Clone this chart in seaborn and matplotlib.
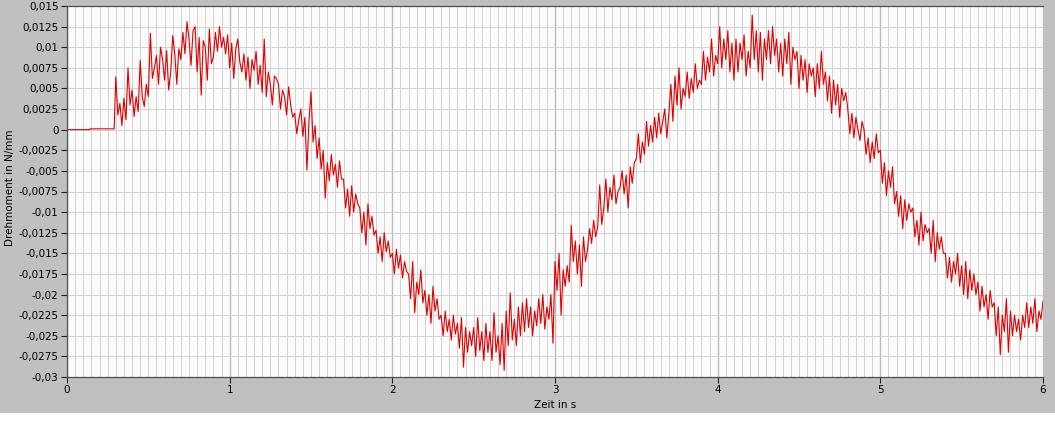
import numpy as np
import pandas as pd
import matplotlib
matplotlib.use('Agg')
import matplotlib.pyplot as plt
import seaborn as sns
from matplotlib.patches import Rectangle
from matplotlib.ticker import MultipleLocator, FuncFormatter

# flat start before the motor kicks in (torque in 1e-4 N/mm)
t_start = [0.0, 0.14, 0.14, 0.29]
m_start = [0, 0, 1, 1]

# sampled torque from t = 0.3 s on, every 0.0125 s (units 1e-4 N/mm), one row = 0.1 s
dt = 0.0125
m_noisy = [
    64, 18, 32, 5, 38, 12, 75, 30,
    48, 16, 40, 22, 84, 40, 28, 55,
    40, 117, 62, 75, 90, 55, 100, 85,
    60, 96, 48, 70, 114, 92, 55, 98,
    85, 118, 92, 131, 110, 78, 120, 125,
    70, 112, 42, 108, 100, 60, 122, 80,
    88, 118, 95, 125, 100, 112, 92, 115,
    75, 105, 62, 98, 110, 82, 70, 92,
    60, 88, 50, 85, 72, 95, 55, 78,
    45, 110, 40, 70, 55, 30, 65, 62,
    55, 25, 48, 40, 18, 52, 30, 15,
    20, -5, 12, 25, -8, 15, -49, 10,
    46, -15, 5, -35, -10, -48, -25, -83,
    -40, -62, -30, -55, -42, -70, -38, -60,
    -60, -95, -72, -105, -68, -100, -78, -90,
    -95, -125, -100, -140, -90, -120, -105, -128,
    -122, -150, -130, -160, -125, -148, -135, -155,
    -150, -175, -145, -168, -152, -180, -160, -172,
    -175, -205, -160, -222, -185, -200, -170, -210,
    -195, -225, -200, -235, -190, -220, -205, -230,
    -225, -250, -220, -245, -230, -255, -225, -248,
    -235, -265, -228, -288, -240, -270, -245, -262,
    -240, -275, -228, -268, -245, -280, -235, -270,
    -245, -280, -222, -270, -250, -285, -235, -292,
    -220, -262, -198, -255, -230, -262, -215, -250,
    -210, -245, -205, -240, -215, -250, -220, -238,
    -205, -235, -200, -242, -215, -230, -200, -259,
    -160, -195, -150, -225, -170, -190, -165, -185,
    -116, -160, -135, -175, -140, -190, -130, -160,
    -145, -120, -138, -110, -130, -118, -67, -115,
    -95, -60, -100, -70, -85, -55, -90, -75,
    -70, -50, -78, -55, -95, -45, -65, -40,
    -35, -5, -40, -15, -30, 10, -20, 5,
    -15, 15, -10, 20, -5, 10, 25, -10,
    20, 55, 10, 65, 30, 75, 25, 50,
    40, 70, 38, 62, 45, 80, 50, 60,
    55, 95, 60, 88, 70, 110, 65, 90,
    80, 125, 75, 110, 85, 120, 70, 105,
    60, 110, 70, 105, 85, 115, 65, 95,
    75, 139, 85, 120, 70, 118, 60, 110,
    85, 120, 80, 125, 90, 110, 70, 105,
    65, 110, 80, 118, 55, 100, 85, 95,
    50, 90, 60, 85, 45, 80, 65, 75,
    40, 80, 50, 95, 55, 70, 35, 65,
    20, 60, 30, 55, 15, 50, 35, 45,
    25, -5, 20, -10, 15, 0, -13, 10,
    0, -30, -10, -40, -15, -35, -5, -28,
    -25, -65, -40, -80, -50, -70, -45, -90,
    -75, -105, -80, -120, -85, -110, -90, -100,
    -95, -130, -110, -140, -100, -135, -115, -125,
    -120, -150, -110, -160, -125, -145, -130, -150,
    -150, -180, -155, -185, -160, -175, -150, -190,
    -165, -200, -160, -205, -170, -195, -175, -200,
    -185, -220, -190, -215, -200, -230, -195, -215,
    -210, -250, -215, -273, -225, -245, -205, -270,
    -220, -250, -225, -245, -230, -255, -225, -240,
    -210, -240, -215, -235, -205, -245, -220, -230,
    -208,
]
t_noisy = 0.3 + dt * np.arange(len(m_noisy))

df = pd.DataFrame({
    'Zeit': np.r_[t_start, t_noisy],
    'Moment': np.r_[m_start, m_noisy] * 1e-4,
})

W, H = 1055, 432
fig = plt.figure(figsize=(W / 100, H / 100), dpi=100, facecolor='#c0c0c0')
fig.add_artist(Rectangle((0, 0), 1, 19 / H, transform=fig.transFigure,
                         facecolor='white', edgecolor='none'))

ax = fig.add_axes([67 / W, 1 - 377 / H, (1043 - 67) / W, 371 / H])
ax.set_facecolor('#fbfbfb')

sns.lineplot(data=df, x='Zeit', y='Moment', estimator=None, sort=False,
             color='#e00000', linewidth=0.8, ax=ax)

ax.set_xlim(0, 6)
ax.set_ylim(-0.03, 0.015)
ax.xaxis.set_major_locator(MultipleLocator(1))
ax.xaxis.set_minor_locator(MultipleLocator(0.05))
ax.yaxis.set_major_locator(MultipleLocator(0.0025))


def komma(v, pos):
    v = round(v, 6) + 0.0
    return ('%g' % v).replace('.', ',')


ax.yaxis.set_major_formatter(FuncFormatter(komma))
ax.xaxis.set_major_formatter(FuncFormatter(komma))

ax.set_axisbelow(True)
ax.grid(which='minor', axis='x', color='#d2d2d2', linewidth=0.7)
ax.grid(which='major', axis='y', color='#d2d2d2', linewidth=0.7)
ax.grid(which='major', axis='x', color='#bcbcbc', linewidth=1.0)

ax.tick_params(which='minor', length=0)
ax.tick_params(which='major', length=4, width=0.8, color='#202020',
               labelsize=7.5, pad=2, labelcolor='black')

for side in ['left', 'top', 'bottom']:
    ax.spines[side].set_color('#505050')
    ax.spines[side].set_linewidth(0.9)
ax.spines['right'].set_visible(False)

ax.set_xlabel('Zeit in s', fontsize=7.5)
ax.set_ylabel('Drehmoment in N/mm', fontsize=7.5)
ax.xaxis.set_label_coords(0.5, -0.062)
ax.yaxis.set_label_coords(-0.053, 0.51)

fig.savefig('out.png', dpi=100, facecolor=fig.get_facecolor())
